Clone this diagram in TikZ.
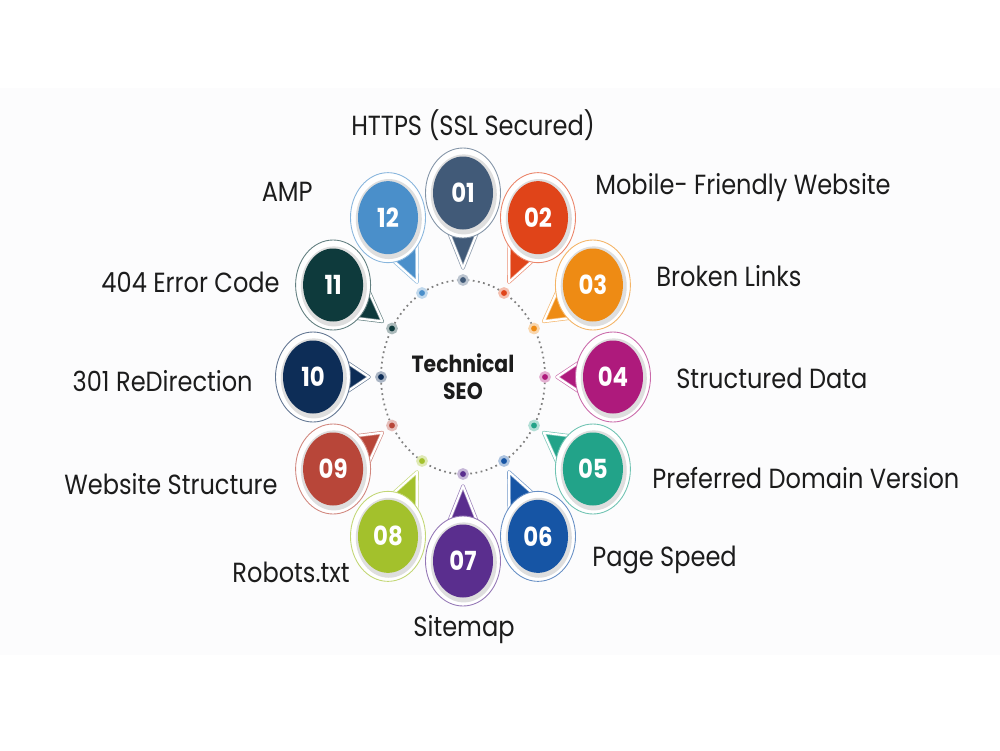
\documentclass[tikz,border=0pt]{standalone}
\usepackage{graphicx}
\usepackage{fontspec}
\setmainfont{Poppins}
\usetikzlibrary{calc, positioning, shapes.geometric}
\definecolor{seo01}{HTML}{415A78}
\definecolor{seo02}{HTML}{E04419}
\definecolor{seo03}{HTML}{EE8B14}
\definecolor{seo04}{HTML}{AE1A7C}
\definecolor{seo05}{HTML}{22A389}
\definecolor{seo06}{HTML}{1655A5}
\definecolor{seo07}{HTML}{5A2E8E}
\definecolor{seo08}{HTML}{A3C12C}
\definecolor{seo09}{HTML}{B84639}
\definecolor{seo10}{HTML}{0D2D57}
\definecolor{seo11}{HTML}{0E3A3C}
\definecolor{seo12}{HTML}{4A8FCA}
\definecolor{ink}{HTML}{1C1C1C}
\definecolor{band}{HTML}{FCFCFD}
\newcommand{\tallnum}[1]{\scalebox{1}[1.15]{#1}}
\tikzset{
  hub/.style={font=\bfseries\fontsize{11.6}{13.4}\selectfont, text=ink,
    align=center, inner sep=0pt, yscale=1.15},
  ring/.style={dotted, line width=1pt, black!50},
  % small marker sitting on the dotted ring
  dotmark/.style={circle, fill=#1, draw=#1!35, line width=1.5pt,
    minimum size=1.8mm, inner sep=0pt},
  ptr/.style={fill=#1, draw=#1!60, double=white, double distance=1.2pt,
    line join=round},
  bub/.style={ellipse, fill=white, draw=#1!65, line width=0.5pt,
    minimum width=15mm, minimum height=18mm, inner sep=0pt},
  bubshade/.style={ellipse, fill=black!13, minimum width=13.2mm,
    minimum height=16mm, inner sep=0pt},
  bubnum/.style={ellipse, fill=#1, minimum width=12mm, minimum height=14.6mm,
    inner sep=0pt, text=white, font=\bfseries\fontsize{13}{13}\selectfont},
  lbl/.style={font=\fontsize{13.7}{15}\selectfont, text=ink, inner sep=0pt,
    yscale=1.15},
}

\begin{document}
\begin{tikzpicture}[x=0.2mm, y=-0.2mm]
\useasboundingbox (0,0) rectangle (1000,750);
\fill[band] (0,88) rectangle (1000,655);

% ── HUB ──────────────────────────────────────────────────────────────
\node[hub] (seo) at (463,377) {Technical\\SEO};
\draw[ring] (seo.center) ellipse [x radius=82, y radius=97];

% ── TWELVE BUBBLES (clockwise from top) ──────────────────────────────
\foreach \i/\a in {01/-90, 02/-60, 03/-30, 04/0, 05/30, 06/60,
                   07/90, 08/120, 09/150, 10/180, 11/210, 12/240} {
  \node[dotmark=seo\i] (d\i) at ($(seo.center)+(\a:82 and 97)$) {};
  \coordinate (c\i) at ($(seo.center)+(\a:150 and 184)$);
  \coordinate (t\i) at ($(d\i)!2.4mm!(c\i)$);
  \coordinate (p\i) at ($(c\i)!5.5mm!(d\i)$);
  \draw[ptr=seo\i] ($(p\i)!3.8mm!90:(d\i)$) -- (t\i)
    -- ($(p\i)!3.8mm!-90:(d\i)$) -- cycle;
  \node[bub=seo\i] (b\i) at (c\i) {};
  \node[bubshade] (s\i) at ($(c\i)+(0.8,1.4)$) {};
  \node[bubnum=seo\i] (n\i) at (c\i) {\tallnum{\i}};
}

% ── LABELS ───────────────────────────────────────────────────────────
\node[lbl] (l01) at (473,125) {HTTPS (SSL Secured)};
\node[lbl, anchor=west] (l02) at (595,188) {Mobile- Friendly Website};
\node[lbl, anchor=west] (l03) at (656,276) {Broken Links};
\node[lbl, anchor=west] (l04) at (676,378) {Structured Data};
\node[lbl, anchor=west] (l05) at (652,478) {Preferred Domain Version};
\node[lbl, anchor=west] (l06) at (592,560) {Page Speed};
\node[lbl] (l07) at (464,630) {Sitemap};
\node[lbl, anchor=east] (l08) at (350,572) {Robots.txt};
\node[lbl, anchor=east] (l09) at (278,484) {Website Structure};
\node[lbl, anchor=east] (l10) at (253,381) {301 ReDirection};
\node[lbl, anchor=east] (l11) at (280,282) {404 Error Code};
\node[lbl, anchor=east] (l12) at (313,192) {AMP};

\end{tikzpicture}
\end{document}
